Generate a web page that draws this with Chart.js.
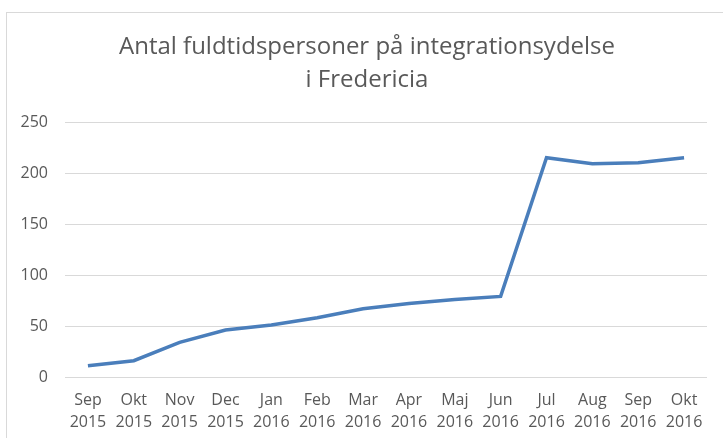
<!DOCTYPE html>
<html>
<head>
<meta charset="utf-8">
<script src="https://cdn.jsdelivr.net/npm/chart.js@4"></script>
<style>
  html, body { margin: 0; padding: 0; background: #fff; overflow: hidden; }
  #wrap { position: relative; width: 723px; height: 438px; }
  #frame {
    position: absolute; left: 6px; top: 12px; width: 800px; height: 500px;
    border: 1px solid #d9d9d9; box-sizing: border-box;
  }
  canvas { position: absolute; left: 0; top: 0; }
</style>
</head>
<body>
<div id="wrap">
  <div id="frame"></div>
  <canvas id="chart" width="723" height="438"></canvas>
</div>
<script>
// Chart data
const months = ['Sep', 'Okt', 'Nov', 'Dec', 'Jan', 'Feb', 'Mar', 'Apr', 'Maj', 'Jun', 'Jul', 'Aug', 'Sep', 'Okt'];
const years = ['2015', '2015', '2015', '2015', '2016', '2016', '2016', '2016', '2016', '2016', '2016', '2016', '2016', '2016'];
const persons = [11, 16, 34, 46, 51, 58, 67, 72, 76, 79, 215, 209, 210, 215];
const yTicks = [0, 50, 100, 150, 200, 250];

const titleLines = ['Antal fuldtidspersoner på integrationsydelse', 'i Fredericia'];

Chart.defaults.font.family = '"Open Sans", "Liberation Sans", sans-serif';
Chart.defaults.color = '#595959';

const labels = months.map((m, i) => [m, years[i]]);

// Excel-style title, a bit right of the canvas centre like the original
const titlePlugin = {
  id: 'excelTitle',
  afterDraw(chart) {
    const ctx = chart.ctx;
    ctx.save();
    ctx.font = '24px "Open Sans", "Liberation Sans", sans-serif';
    ctx.fillStyle = '#595959';
    ctx.textAlign = 'center';
    ctx.textBaseline = 'middle';
    titleLines.forEach((line, i) => {
      ctx.fillText(line, 367, 47 + i * 33);
    });
    ctx.restore();
  }
};

new Chart(document.getElementById('chart'), {
  type: 'line',
  data: {
    labels: labels,
    datasets: [{
      label: 'Antal',
      data: persons,
      borderColor: '#4a7ebb',
      borderWidth: 3.5,
      pointRadius: 0,
      tension: 0,
      fill: false
    }]
  },
  options: {
    responsive: false,
    animation: false,
    layout: {
      padding: { left: 10, right: 16, top: 122, bottom: 0 }
    },
    plugins: {
      legend: { display: false },
      tooltip: { enabled: false },
      title: { display: false }
    },
    scales: {
      y: {
        min: 0,
        max: 250,
        afterBuildTicks: function(scale) {
          scale.ticks = yTicks.map(v => ({ value: v }));
        },
        afterFit: function(scale) {
          scale.width = 55;
        },
        ticks: {
          padding: 17,
          font: { size: 16 },
          color: '#595959'
        },
        grid: {
          color: '#d9d9d9',
          lineWidth: 1,
          drawTicks: false
        },
        border: { display: false }
      },
      x: {
        offset: true,
        afterFit: function(scale) {
          scale.height = 61;
        },
        ticks: {
          padding: 4,
          maxRotation: 0,
          autoSkip: false,
          font: { size: 16, lineHeight: 1.4 },
          color: '#595959'
        },
        grid: { display: false },
        border: { display: false }
      }
    }
  },
  plugins: [titlePlugin]
});
</script>
</body>
</html>
